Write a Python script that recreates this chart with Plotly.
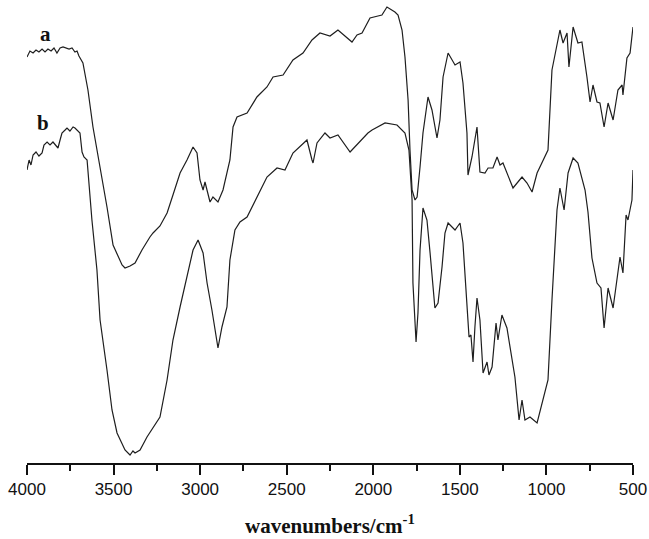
import plotly.graph_objects as go

# Curve a: wavenumber (cm-1) and transmittance (a.u.)
wn_a = [4000, 3983, 3965, 3948, 3931, 3913, 3896, 3879, 3861, 3844, 3827, 3809, 3792, 3775, 3757,
        3740, 3723, 3711, 3700, 3677, 3648, 3619, 3578, 3538, 3503, 3474, 3451, 3434, 3405, 3376,
        3336, 3290, 3272, 3232, 3191, 3157, 3116, 3076, 3041, 3018, 3001, 2983, 2972, 2943, 2926,
        2897, 2868, 2828, 2810, 2787, 2729, 2672, 2614, 2579, 2521, 2464, 2406, 2354, 2308, 2250,
        2204, 2123, 2094, 2065, 2019, 1973, 1950, 1921, 1875, 1857, 1834, 1817, 1799, 1788, 1776,
        1759, 1747, 1730, 1713, 1684, 1661, 1632, 1615, 1597, 1568, 1528, 1499, 1482, 1459, 1453,
        1430, 1401, 1384, 1355, 1337, 1309, 1285, 1268, 1251, 1193, 1141, 1112, 1083, 1054, 991,
        968, 922, 904, 881, 870, 846, 818, 795, 766, 748, 731, 708, 691, 667, 644,
        615, 587, 563, 558, 535, 517, 500]
t_a = [406, 412, 410, 413, 411, 414, 411, 414, 412, 415, 410, 415, 416, 415, 414,
       415, 411, 412, 407, 400, 373, 336, 296, 256, 218, 206, 198, 195, 197, 200,
       213, 226, 230, 237, 250, 268, 290, 303, 316, 310, 283, 273, 281, 261, 266,
       261, 273, 303, 336, 346, 350, 366, 376, 386, 388, 403, 410, 423, 430, 427,
       433, 421, 428, 430, 445, 447, 448, 456, 451, 448, 433, 406, 363, 313, 273,
       263, 266, 296, 330, 366, 353, 325, 343, 386, 410, 398, 401, 380, 330, 288,
       306, 336, 291, 290, 295, 295, 306, 298, 300, 275, 286, 280, 271, 290, 313,
       393, 433, 420, 430, 396, 436, 420, 421, 386, 361, 378, 361, 360, 336, 360,
       343, 373, 378, 368, 405, 410, 436]

# Curve b
wn_b = [4000, 3988, 3977, 3965, 3948, 3931, 3913, 3902, 3884, 3867, 3850, 3832, 3821, 3809, 3798,
        3780, 3769, 3752, 3734, 3723, 3705, 3694, 3682, 3671, 3653, 3636, 3625, 3596, 3578, 3538,
        3509, 3480, 3434, 3405, 3388, 3376, 3347, 3307, 3272, 3232, 3191, 3157, 3116, 3076, 3041,
        3012, 2983, 2960, 2932, 2897, 2874, 2845, 2828, 2799, 2770, 2729, 2672, 2614, 2556, 2510,
        2464, 2406, 2383, 2354, 2348, 2325, 2279, 2250, 2204, 2134, 2077, 2031, 2007, 1932, 1863,
        1817, 1794, 1776, 1771, 1753, 1742, 1730, 1713, 1690, 1672, 1644, 1626, 1603, 1586, 1568,
        1528, 1499, 1482, 1459, 1447, 1436, 1424, 1413, 1401, 1384, 1366, 1343, 1332, 1314, 1291,
        1280, 1257, 1228, 1199, 1182, 1158, 1141, 1124, 1095, 1054, 1020, 991, 968, 939, 922,
        898, 875, 846, 818, 777, 760, 737, 708, 685, 667, 644, 615, 575, 558, 540,
        529, 506, 500]
t_b = [293, 303, 298, 308, 311, 307, 310, 318, 321, 318, 321, 317, 315, 323, 330,
       333, 335, 332, 336, 335, 332, 330, 311, 306, 303, 263, 243, 193, 143, 93,
       53, 30, 13, 8, 12, 10, 13, 26, 36, 46, 83, 123, 156, 186, 213,
       223, 210, 180, 153, 115, 136, 156, 203, 233, 241, 246, 266, 286, 295, 293,
       310, 320, 323, 303, 300, 320, 330, 325, 328, 311, 321, 330, 333, 340, 338,
       330, 313, 263, 180, 121, 150, 213, 255, 243, 210, 155, 160, 196, 230, 240,
       233, 240, 220, 163, 126, 128, 101, 136, 165, 143, 90, 101, 88, 96, 140,
       123, 148, 135, 101, 86, 43, 63, 43, 46, 40, 63, 83, 163, 253, 275,
       253, 290, 305, 300, 273, 251, 205, 180, 175, 135, 175, 155, 206, 190, 248,
       243, 263, 293]

tick_vals = [4000, 3500, 3000, 2500, 2000, 1500, 1000, 500]
tick_text = ["4000", "3500", "3000", "2500", "2000", "1500", "1000", "500"]
minor_vals = [3750, 3250, 2750, 2250, 1750, 1250, 750]

line_style = dict(color="#1e1e1e", width=1.2)

fig = go.Figure()
fig.add_trace(go.Scatter(x=wn_a, y=t_a, mode="lines", line=line_style, showlegend=False,
                         hoverinfo="skip"))
fig.add_trace(go.Scatter(x=wn_b, y=t_b, mode="lines", line=line_style, showlegend=False,
                         hoverinfo="skip"))

label_font = dict(family="Liberation Serif", size=21, color="#111111")
fig.add_annotation(x=3896, y=429, text="<b>a</b>", showarrow=False, font=label_font)
fig.add_annotation(x=3908, y=340, text="<b>b</b>", showarrow=False, font=label_font)
fig.add_annotation(xref="paper", yref="paper", x=0.5, y=-0.132, yanchor="middle",
                   text="<b>wavenumbers/cm<sup>-1</sup></b>", showarrow=False,
                   font=dict(family="Liberation Serif", size=21, color="#111111"))

fig.update_layout(
    width=649, height=539,
    margin=dict(l=27, r=16, t=0, b=76),
    paper_bgcolor="white", plot_bgcolor="white",
    xaxis=dict(range=[4000, 500], tickvals=tick_vals, ticktext=tick_text,
               ticks="outside", ticklen=10, tickwidth=1.6, tickcolor="#111111",
               showline=True, linewidth=2, linecolor="#111111", showgrid=False,
               zeroline=False,
               tickfont=dict(family="Liberation Sans", size=17, color="#111111"),
               minor=dict(tickvals=minor_vals,
                          ticks="outside", ticklen=6, tickwidth=1.6, tickcolor="#111111",
                          showgrid=False)),
    yaxis=dict(range=[0, 463], visible=False, showgrid=False, zeroline=False),
)

fig.write_html("out.html", config={"displayModeBar": False},
               post_script="document.body.style.margin='0';document.body.style.padding='0';")
